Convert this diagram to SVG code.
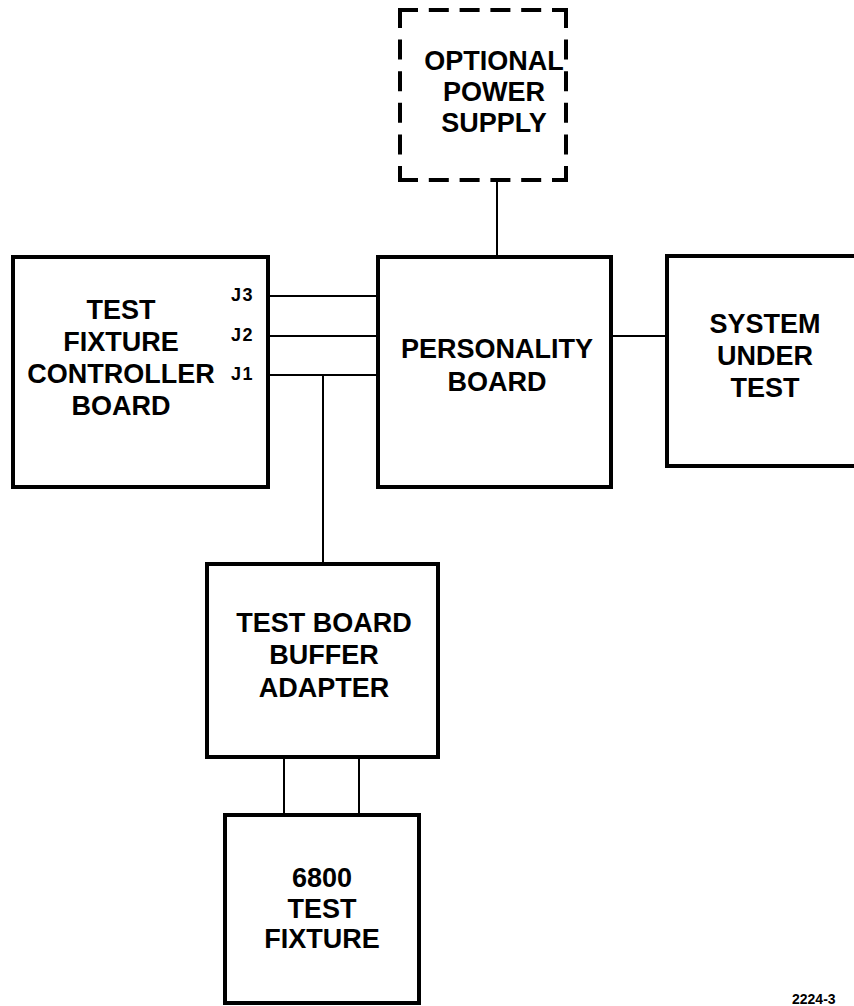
<svg xmlns="http://www.w3.org/2000/svg" width="854" height="1006" viewBox="0 0 854 1006">
<style>
.box{fill:#fff;stroke:#000;stroke-width:4}
.dash{fill:none;stroke:#000;stroke-width:4;stroke-linecap:butt}
.wire{fill:none;stroke:#000;stroke-width:2}
.lbl{font-family:"Liberation Sans",Arial,sans-serif;font-weight:bold;font-size:27px;fill:#000;text-anchor:middle}
.j{font-family:"Liberation Sans",Arial,sans-serif;font-weight:bold;font-size:18px;letter-spacing:1.5px;fill:#000}
.tag{font-family:"Liberation Sans",Arial,sans-serif;font-weight:bold;font-size:14px;fill:#000}
</style>
<g id="connectors">
<line class="wire" x1="497" y1="180" x2="497" y2="257"/>
<line class="wire" x1="268" y1="296" x2="378" y2="296"/>
<line class="wire" x1="268" y1="336" x2="378" y2="336"/>
<line class="wire" x1="268" y1="375" x2="378" y2="375"/>
<line class="wire" x1="323" y1="375" x2="323" y2="564"/>
<line class="wire" x1="611" y1="336" x2="667" y2="336"/>
<line class="wire" x1="284" y1="757" x2="284" y2="815"/>
<line class="wire" x1="359" y1="757" x2="359" y2="815"/>
</g>
<g id="optional-power-supply">
<line class="dash" x1="398" y1="10" x2="568" y2="10" stroke-dasharray="20 10.8"/>
<line class="dash" x1="398" y1="180" x2="568" y2="180" stroke-dasharray="20 10.8"/>
<line class="dash" x1="400" y1="8" x2="400" y2="182" stroke-dasharray="20 11.6"/>
<line class="dash" x1="566" y1="8" x2="566" y2="182" stroke-dasharray="20 11.6"/>
<text class="lbl" x="494" y="70">OPTIONAL</text>
<text class="lbl" x="494" y="101">POWER</text>
<text class="lbl" x="494" y="132">SUPPLY</text>
</g>
<g id="test-fixture-controller-board">
<rect class="box" x="13" y="257" width="255" height="230"/>
<text class="lbl" x="121" y="319">TEST</text>
<text class="lbl" x="121" y="351">FIXTURE</text>
<text class="lbl" x="121" y="383">CONTROLLER</text>
<text class="lbl" x="121" y="415">BOARD</text>
<text class="j" x="231" y="301">J3</text>
<text class="j" x="231" y="341">J2</text>
<text class="j" x="231" y="380">J1</text>
</g>
<g id="personality-board">
<rect class="box" x="378" y="257" width="233" height="230"/>
<text class="lbl" x="497" y="358">PERSONALITY</text>
<text class="lbl" x="497" y="391">BOARD</text>
</g>
<g id="system-under-test">
<path class="box" d="M860 256 H667 V466 H860"/>
<text class="lbl" x="765" y="333">SYSTEM</text>
<text class="lbl" x="765" y="365">UNDER</text>
<text class="lbl" x="765" y="397">TEST</text>
</g>
<g id="test-board-buffer-adapter">
<rect class="box" x="207" y="564" width="231" height="193"/>
<text class="lbl" x="324" y="632">TEST BOARD</text>
<text class="lbl" x="324" y="664">BUFFER</text>
<text class="lbl" x="324" y="697">ADAPTER</text>
</g>
<g id="test-fixture-6800">
<rect class="box" x="225" y="815" width="194" height="188"/>
<text class="lbl" x="322" y="887">6800</text>
<text class="lbl" x="322" y="918">TEST</text>
<text class="lbl" x="322" y="948">FIXTURE</text>
</g>
<text class="tag" x="792" y="1004">2224-3</text>
</svg>
